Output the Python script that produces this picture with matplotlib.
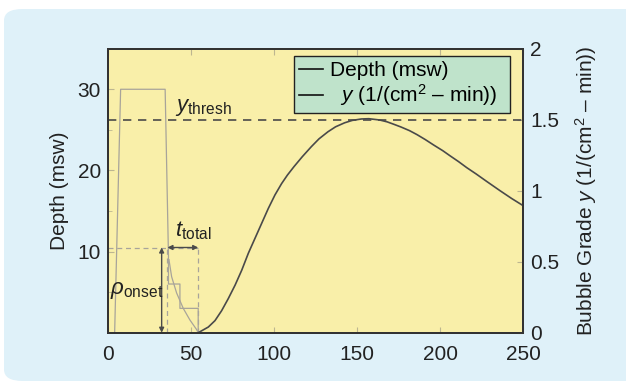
import numpy as np
import matplotlib
matplotlib.use('Agg')
import matplotlib.pyplot as plt
from matplotlib.patches import FancyBboxPatch
from matplotlib.ticker import MultipleLocator

plt.rcParams['font.family'] = 'Liberation Sans'
plt.rcParams['mathtext.fontset'] = 'custom'
plt.rcParams['mathtext.rm'] = 'Liberation Sans'
plt.rcParams['mathtext.it'] = 'Liberation Sans:italic'

# dive profile (time in min, depth in msw)
depth_t = [0, 4, 7.6, 34.4, 36.4, 36.4, 43.3, 43.3, 54.3, 54.3]
depth_d = [0, 0, 30, 30, 9.4, 6.0, 6.0, 3.0, 3.0, 0]

# thin grey decay curve before onset
decay_t = [36.7, 38.3, 41.3, 45.3, 49.3, 53.3, 54.3]
decay_d = [9.0, 6.9, 4.9, 3.0, 1.57, 0.4, 0]

# bubble grade y
bub_t = [54.3, 55.4, 60.4, 64.4, 68.4, 72.4, 76.5, 80.5, 84.5, 88.5, 92.5, 96.5,
         100.5, 104.5, 108, 112, 117, 122.4, 127, 132.4, 137, 142.4, 147, 152.5,
         157, 163.5, 168, 172, 176.5, 181.5, 186, 191, 196, 201.5, 206, 211,
         216, 221.6, 228, 236, 243, 250]
bub_y = [0, 0.007, 0.04, 0.085, 0.155, 0.24, 0.335, 0.44, 0.56, 0.665, 0.77, 0.875,
         0.97, 1.05, 1.11, 1.17, 1.24, 1.31, 1.365, 1.415, 1.45, 1.478, 1.495, 1.505,
         1.507, 1.498, 1.485, 1.468, 1.448, 1.423, 1.395, 1.36, 1.322, 1.282, 1.245, 1.205,
         1.162, 1.118, 1.065, 1.0, 0.945, 0.894]

y_thresh = 1.5
onset_depth = 10.5
t_start = 35.8
t_end = 54.3

fig = plt.figure(figsize=(6.26, 3.83), dpi=100)
fig.patch.set_facecolor('white')
# light blue rounded panel behind everything
panel = FancyBboxPatch((4/626, 2/383), 640/626, 372/383,
                       boxstyle='round,pad=0,rounding_size=0.03',
                       transform=fig.transFigure, facecolor='#DFF1F9',
                       edgecolor='none', zorder=-10)
fig.patches.append(panel)

ax = fig.add_axes([108/626, 1-332.7/383, 415.3/626, 284/383])
ax.set_facecolor('#F9EFA9')
ax2 = ax.twinx()

grey = '#A8A49A'
dark = '#4A4A4A'

l1, = ax.plot(depth_t, depth_d, color=grey, lw=0.9)
ax.plot(decay_t, decay_d, color=grey, lw=0.9)

# onset marker lines
ax.plot([0, t_end], [onset_depth, onset_depth], color=grey, lw=0.9, ls=(0, (4, 3)))
ax.plot([t_start, t_start], [0, onset_depth], color=grey, lw=0.9, ls=(0, (4, 3)))
ax.plot([t_end, t_end], [0, onset_depth], color=grey, lw=0.9, ls=(0, (4, 3)))
ax.annotate('', xy=(32.3, 0), xytext=(32.3, onset_depth),
            arrowprops=dict(arrowstyle='<|-|>', color=dark, lw=1.0,
                            mutation_scale=7, shrinkA=0, shrinkB=0))
ax.annotate('', xy=(t_start, onset_depth), xytext=(t_end, onset_depth),
            arrowprops=dict(arrowstyle='<|-|>', color=dark, lw=1.0,
                            mutation_scale=7, shrinkA=0, shrinkB=0))

ax.text(1.0, 5.2, r'$\rho_{\mathrm{onset}}$', fontsize=16, va='center', color='#222222')
ax.text(40.5, 12.6, r'$t_{\mathrm{total}}$', fontsize=16, va='center', color='#222222')
ax.text(40.5, 27.7, r'$y_{\mathrm{thresh}}$', fontsize=16, va='center', color='#222222')

l2, = ax2.plot(bub_t, bub_y, color=dark, lw=1.2)
ax2.axhline(y_thresh, color=dark, lw=1.2, ls=(0, (5, 4)))

ax.set_xlim(0, 250)
ax.set_ylim(0, 35)
ax2.set_ylim(0, 2)
ax.set_xticks([0, 50, 100, 150, 200, 250])
ax.set_yticks([10, 20, 30])
ax.yaxis.set_minor_locator(MultipleLocator(5))
ax2.set_yticks([0, 0.5, 1, 1.5, 2])
ax2.set_yticklabels(['0', '0.5', '1', '1.5', '2'])

ax.tick_params(direction='in', top=True, right=False, labelsize=15, colors='#BDB690',
               labelcolor='#222222', length=4, pad=5)
ax.tick_params(axis='x', pad=9)
ax.tick_params(which='minor', direction='in', left=True, right=False, length=3, colors='#BDB690')
ax2.tick_params(direction='in', labelsize=15, colors='#BDB690', labelcolor='#222222',
                length=4, pad=5)

for a in (ax, ax2):
    for s in a.spines.values():
        s.set_color('#333333')
        s.set_linewidth(1.4)

ax.set_ylabel('Depth (msw)', fontsize=15, color='#222222', labelpad=6)
ax2.set_ylabel(r'Bubble Grade $y$ (1/(cm$^2$ – min))', fontsize=15, color='#222222', labelpad=10)

leg = ax2.legend([l1, l2], ['Depth (msw)', r'  $y$ (1/(cm$^2$ – min))  '],
                 loc='upper right', bbox_to_anchor=(0.968, 0.974), borderaxespad=0,
                 fontsize=15, fancybox=False, framealpha=1, handlelength=1.15,
                 handletextpad=0.35, borderpad=0.25, labelspacing=0.1)
leg.get_frame().set_facecolor('#BFE3CB')
leg.get_frame().set_edgecolor('#222222')
leg.get_frame().set_linewidth(1.0)
for h in leg.get_lines():
    h.set_color('#111111')
    h.set_linewidth(1.2)

fig.savefig('out.png', dpi=100, facecolor=fig.get_facecolor())
